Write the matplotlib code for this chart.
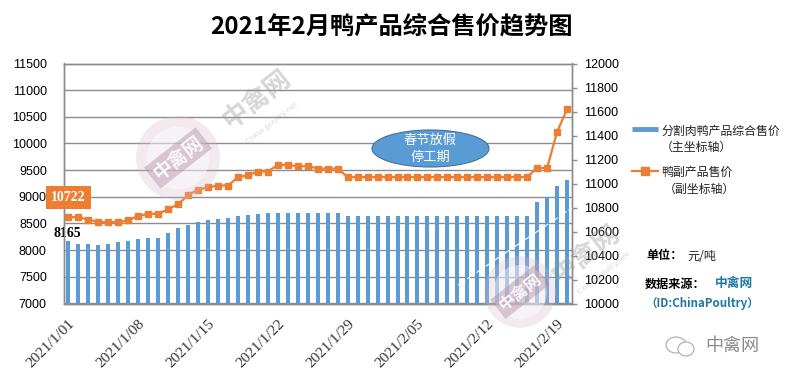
import numpy as np
import matplotlib
matplotlib.use("Agg")
import matplotlib.pyplot as plt
from matplotlib.patches import Ellipse, Rectangle, Wedge

plt.rcParams['font.family'] = ['Noto Sans CJK SC', 'DejaVu Sans']

W, H = 785, 380

# meat products, primary axis
meat = [8165, 8112, 8112, 8094, 8112, 8150, 8170, 8206, 8225, 8225,
        8320, 8412, 8470, 8525, 8562, 8580, 8600, 8637, 8656, 8675,
        8694, 8694, 8694, 8694, 8694, 8694, 8694, 8694,
        8637, 8637, 8637, 8637, 8637, 8637, 8637, 8637, 8637, 8637,
        8637, 8637, 8637, 8637, 8637, 8637, 8637, 8637, 8637,
        8900, 9000, 9200, 9312]

# by-products, secondary axis
byprod = [10722, 10717, 10700, 10678, 10678, 10678, 10694, 10730, 10747, 10747,
          10786, 10828, 10903, 10950, 10967, 10983, 10983, 11053, 11069, 11100,
          11100, 11155, 11155, 11144, 11144, 11125, 11125, 11125,
          11053, 11053, 11053, 11053, 11053, 11053, 11053, 11053, 11053, 11053,
          11053, 11053, 11053, 11053, 11053, 11053, 11053, 11053, 11053,
          11130, 11130, 11428, 11620]

tick_pos = [0, 7, 14, 21, 28, 35, 42, 49]
tick_labels = ["2021/1/01", "2021/1/08", "2021/1/15", "2021/1/22",
               "2021/1/29", "2021/2/05", "2021/2/12", "2021/2/19"]
left_ticks = [7000, 7500, 8000, 8500, 9000, 9500, 10000, 10500, 11000, 11500]
right_ticks = [10000, 10200, 10400, 10600, 10800, 11000, 11200, 11400, 11600, 11800, 12000]

BLUE = "#5B9BD5"
ORANGE = "#ED7D31"
GRID = "#8C8C8C"
LATIN = "Liberation Sans"


def fx(x):
    return x / W


def fy(y):
    return 1 - y / H


def oval(cx, cy, w, h, **kw):
    fig.add_artist(Ellipse((fx(cx), fy(cy)), w / W, h / H, transform=fig.transFigure, **kw))


fig = plt.figure(figsize=(W / 100, H / 100), dpi=100)
ax = fig.add_axes([fx(63.5), fy(303.5), (572 - 63.5) / W, (303.5 - 63.5) / H])
x = np.arange(len(meat))

ax.bar(x, meat, width=0.4, color=BLUE, zorder=2)
ax.set_xlim(-0.5, len(meat) - 0.5)
ax.set_ylim(7000, 11500)
ax.set_yticks(left_ticks)
ax.tick_params(axis="y", length=0, pad=12)
for t in ax.get_yticklabels():
    t.set_family(LATIN)
    t.set_fontsize(9)
ax.grid(axis="y", color=GRID, lw=1, zorder=1)
ax.set_axisbelow(True)
ax.set_xticks(tick_pos)
ax.set_xticklabels(tick_labels, rotation=45, ha="right", rotation_mode="anchor",
                   family="Liberation Serif", fontsize=11, color="#333333")
ax.tick_params(axis="x", length=0, pad=10)
for s in ax.spines.values():
    s.set_color(GRID)
    s.set_linewidth(1)

ax2 = ax.twinx()
ax2.plot(x, byprod, color=ORANGE, lw=1.6, marker="s", ms=5, zorder=3)
ax2.set_ylim(10000, 12000)
ax2.set_yticks(right_ticks)
ax2.tick_params(axis="y", length=3.5, width=1, color=GRID, pad=5)
for t in ax2.get_yticklabels():
    t.set_family(LATIN)
    t.set_fontsize(9)
for s in ax2.spines.values():
    s.set_color(GRID)
    s.set_linewidth(1)

# value labels on the first point of each series
ax.annotate(str(meat[0]), xy=(0, meat[0]), xytext=(-0.5, 1), textcoords="offset points",
            ha="center", va="bottom", family="Liberation Serif", fontweight="bold",
            fontsize=10, color="black", zorder=5)
ax2.annotate(str(byprod[0]), xy=(0, byprod[0]), xytext=(0, 9), textcoords="offset points",
             ha="center", va="bottom", family="Liberation Serif", fontweight="bold",
             fontsize=10, color="white", zorder=5,
             bbox=dict(boxstyle="square,pad=0.35", fc=ORANGE, ec="none"))

# holiday ellipse
oval(430.5, 148.5, 117, 37, fc=BLUE, ec="#41719C", lw=0.8, zorder=6)
fig.text(fx(430.5), fy(148.5), "春节放假\n停工期", color="white", fontsize=9.5, ha="center",
         va="center", linespacing=1.4, zorder=7)

# legend, handle level with the first text line
fig.add_artist(plt.Line2D([fx(632), fx(658)], [fy(129), fy(129)], color=BLUE, lw=3.5,
                          solid_capstyle="butt", transform=fig.transFigure))
fig.add_artist(plt.Line2D([fx(632), fx(658)], [fy(171), fy(171)], color=ORANGE, lw=1.6,
                          transform=fig.transFigure))
fig.add_artist(plt.Line2D([fx(645)], [fy(171)], color=ORANGE, marker="s", ms=6,
                          transform=fig.transFigure))
fig.text(fx(661), fy(131), "分割肉鸭产品综合售价", fontsize=8.6, va="center", color="#222222")
fig.text(fx(661), fy(147), "（主坐标轴）", fontsize=8.6, va="center", color="#222222")
fig.text(fx(661), fy(172), "鸭副产品售价", fontsize=8.6, va="center", color="#222222")
fig.text(fx(664), fy(189), "（副坐标轴）", fontsize=8.6, va="center", color="#222222")

# side notes
fig.text(fx(646), fy(256), "单位：", fontsize=8.7, fontweight="bold", va="center")
fig.text(fx(687), fy(256), "元/吨", fontsize=8.7, va="center", color="#222222")
fig.text(fx(645), fy(284), "数据来源：", fontsize=8.7, fontweight="bold", va="center")
fig.text(fx(715), fy(284), "中禽网", fontsize=9.2, fontweight="bold", va="center", color="#1F78A8")
fig.text(fx(645), fy(303), "（ID:ChinaPoultry）", fontsize=8.3, fontweight="bold", va="center",
         color="#1F78A8")

fig.text(fx(391), fy(27), "2021年2月鸭产品综合售价趋势图", fontsize=17.5, fontweight="bold",
         ha="center", va="center", color="black")

# watermarks: ring logo with a rotated banner, grey name beside it
for cx, cy, r, tx, ty, nx, ny in [(178, 158, 42, 257, 99, 272, 124),
                                  (520, 292, 36, 586, 254, 604, 274)]:
    oval(cx, cy, 2 * r, 2 * r, fc="#D6BCCB", ec="none", alpha=0.3, zorder=8)
    oval(cx, cy, 1.5 * r, 1.5 * r, fc="white", ec="none", alpha=0.4, zorder=8)
    fig.text(fx(cx), fy(cy), "中禽网", fontsize=r * 0.33, fontweight="bold", rotation=38,
             ha="center", va="center", color="white", alpha=0.9, zorder=9,
             bbox=dict(boxstyle="square,pad=0.2", fc="#B58FA6", ec="none", alpha=0.45))
    fig.text(fx(tx), fy(ty), "中禽网", fontsize=19, fontweight="bold", rotation=38, ha="center",
             va="center", color="#9A9A9A", alpha=0.4, zorder=9)
    fig.text(fx(nx), fy(ny), "China poultry.net", fontsize=6, rotation=38, ha="center",
             va="center", color="#9A9A9A", alpha=0.35, zorder=9, family=LATIN)

fig.add_artist(plt.Line2D([fx(458), fx(572)], [fy(285), fy(208)], color="white", lw=0.8,
                          ls=(0, (8, 2)), transform=fig.transFigure, zorder=8))

# wechat badge
oval(676, 345, 20, 16, fc="none", ec="#AAAAAA", lw=0.8, zorder=8)
oval(686, 349, 16, 14, fc="white", ec="#AAAAAA", lw=0.8, zorder=8)
fig.text(fx(732), fy(346), "中禽网", fontsize=13, ha="center", va="center", color="#8A8A8A")

fig.savefig("out.png", dpi=100)
